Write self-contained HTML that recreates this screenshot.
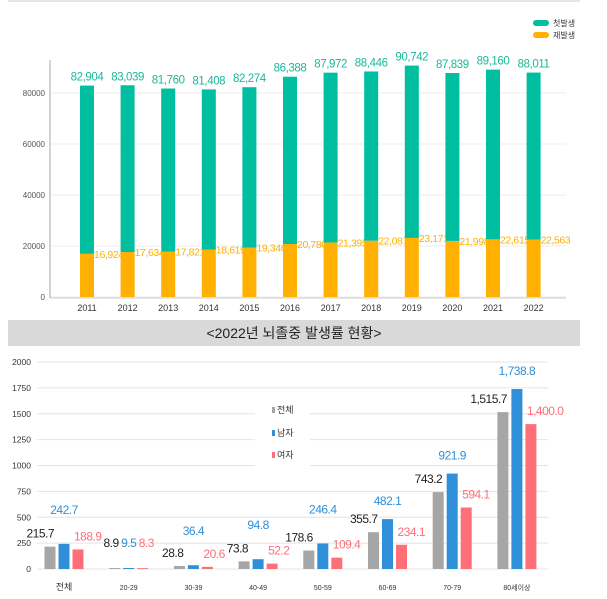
<!DOCTYPE html>
<html><head><meta charset="utf-8"><style>
body{margin:0;background:#fff;width:607px;height:599px;overflow:hidden;font-family:"Liberation Sans","Noto Sans CJK KR",sans-serif}
svg{display:block}
</style></head><body>
<svg id="c" width="607" height="599" xmlns="http://www.w3.org/2000/svg">
<line x1="8" y1="1" x2="580" y2="1" stroke="#e6e6e6" stroke-width="2"/>
<g id="top"></g>
<rect x="8" y="320" width="572" height="26" fill="#d9d9d9"/>
<text x="294" y="338" text-anchor="middle" font-size="14" fill="#222">&lt;2022년 뇌졸중 발생률 현황&gt;</text>
<g id="bot"></g>
</svg>
<script>
const years=["2011","2012","2013","2014","2015","2016","2017","2018","2019","2020","2021","2022"];
const totals=[82904,83039,81760,81408,82274,86388,87972,88446,90742,87839,89160,88011];
const recur=[16924,17634,17821,18619,19346,20780,21395,22087,23171,21998,22615,22563];
const topTicks=[0,20000,40000,60000,80000];
const cats=["전체","20-29","30-39","40-49","50-59","60-69","70-79","80세이상"];
const allV=[215.7,8.9,28.8,73.8,178.6,355.7,743.2,1515.7];
const maleV=[242.7,9.5,36.4,94.8,246.4,482.1,921.9,1738.8];
const femV=[188.9,8.3,20.6,52.2,109.4,234.1,594.1,1400.0];
const botTicks=[0,250,500,750,1000,1250,1500,1750,2000];
const NS="http://www.w3.org/2000/svg";
function mk(p,t,a,txt){const e=document.createElementNS(NS,t);for(const k in a)e.setAttribute(k,a[k]);if(txt!==undefined)e.textContent=txt;p.appendChild(e);return e;}
const fmt=v=>v.toLocaleString('en-US');
const fmt1=v=>v.toLocaleString('en-US',{minimumFractionDigits:1,maximumFractionDigits:1});
// top chart
const T=document.getElementById('top');
const ty=v=>297-v*(204/80000);
const tx=i=>87+i*40.6;
topTicks.forEach(t=>{
 const l=mk(T,'line',{x1:50,x2:566,y1:ty(t),y2:ty(t),stroke:'#eee'});
 
 
 const tt=mk(T,'text',{x:45,y:ty(t)+3,'text-anchor':'end','font-size':8,fill:'#555'},String(t));
 
 
});
const ax=mk(T,'line',{x1:50,x2:50,y1:60,y2:298,stroke:'#aaa'});


const bx=mk(T,'line',{x1:50,x2:566,y1:298,y2:298,stroke:'#ccc'});


years.forEach((y,i)=>{
 const x=tx(i);
 const r=mk(T,'rect',{x:x-7,y:ty(recur[i]),width:14,height:ty(0)-ty(recur[i]),fill:'#ffb000'});
 
 
 const f=mk(T,'rect',{x:x-7,y:ty(totals[i]),width:14,height:ty(recur[i])-ty(totals[i]),fill:'#00bfa0'});
 
 
 const lt=mk(T,'text',{x:x,y:ty(totals[i])-5,'text-anchor':'middle','font-size':11.5,'letter-spacing':-0.4,fill:'#1ab89a'},fmt(totals[i]));
 
 
 const lr=mk(T,'text',{x:x+7,y:ty(recur[i])+4,'font-size':10.5,'letter-spacing':-0.4,fill:'#ffb000'},fmt(recur[i]));
 
 
 const xl=mk(T,'text',{x:x,y:311,'text-anchor':'middle','font-size':9,fill:'#333'},y);
 
 
});
[['#00bfa0','첫발생',23],['#ffb000','재발생',35]].forEach(([c,n,y])=>{
 const s=mk(T,'rect',{x:533,y:y-3,width:16,height:6,rx:3,fill:c});
 
 
 const t=mk(T,'text',{x:553,y:y+3,'font-size':8,fill:'#333'},n);
 
 
});
// bottom chart
const B=document.getElementById('bot');
const by=v=>569-v*(207/2000);
const bxc=i=>64+i*64.7;
botTicks.forEach(t=>{
 const l=mk(B,'line',{x1:37,x2:548,y1:by(t),y2:by(t),stroke:'#e4e4e4'});
 
 
 const tt=mk(B,'text',{x:31,y:by(t)+3,'text-anchor':'end','font-size':8.5,fill:'#333'},String(t));
 
 
});
const series=[[allV,'#a6a6a6','#222',-14,'all'],[maleV,'#2f8fd8','#2f8fd8',0,'male'],[femV,'#ff6f78','#ff6f78',14,'female']];
cats.forEach((c,i)=>{
 const x=bxc(i);
 series.forEach(([vals,col,tc,off,nm],k)=>{
  const v=vals[i];
  const r=mk(B,'rect',{x:x+off-5.5,y:by(v),width:11,height:by(0)-by(v),fill:col});
  
  
  let lx=x+off, ly=by(v)-6, anc='middle';
  if(k===0){lx=x+off+4;ly=by(v)-9;anc='end';}
  if(k===1){ly=v<300?by(v)-30:by(v)-14;}
  if(k===2){anc='start';lx=x+off-4;ly=by(v)-9;}
  if(i===1){ly=by(0)-22;}
  const t=mk(B,'text',{x:lx,y:ly,'text-anchor':anc,'font-size':12,'letter-spacing':-0.5,fill:tc},v>=1000?fmt1(v):v.toFixed(1));
  
  
 });
 const xl=mk(B,'text',{x:x,y:590,'text-anchor':'middle','font-size':i===0?9:7,fill:'#333'},c);
 
 
});
const lb=mk(B,'rect',{x:255,y:397,width:55,height:80,fill:'#fff'});


[['#a6a6a6','전체',410],['#2f8fd8','남자',433],['#ff6f78','여자',455]].forEach(([c,n,y])=>{
 const s=mk(B,'rect',{x:272,y:y-3,width:3,height:6,fill:c});
 
 
 const t=mk(B,'text',{x:277,y:y+3,'font-size':9,fill:'#333'},n);
 
 
});
</script>
</body></html>
